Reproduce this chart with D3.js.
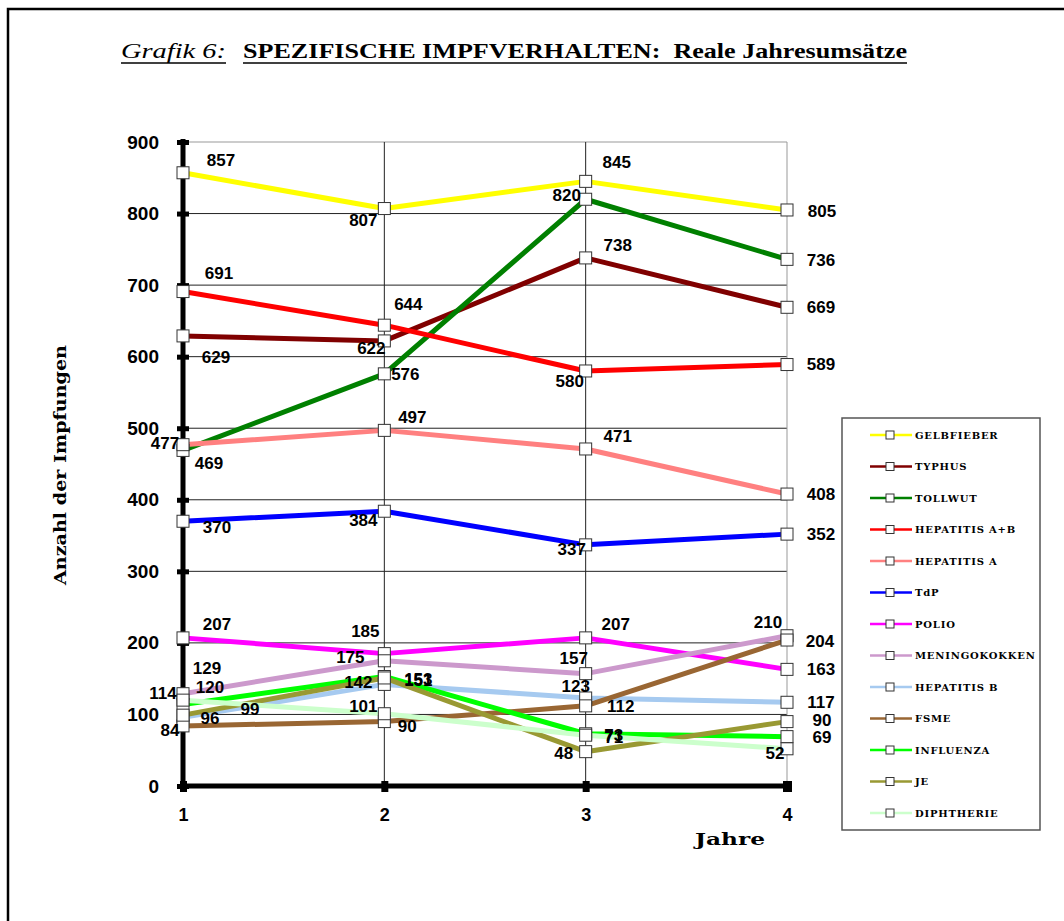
<!DOCTYPE html>
<html>
<head>
<meta charset="utf-8">
<script src="https://cdn.jsdelivr.net/npm/d3@7/dist/d3.min.js"></script>
<style>
  html, body { margin: 0; padding: 0; background: #fff; }
  svg { display: block; }
</style>
</head>
<body>
<svg id="chart" width="1064" height="921"></svg>
<script>
// Years on the x axis
const years = [1, 2, 3, 4];
const yTicks = [0, 100, 200, 300, 400, 500, 600, 700, 800, 900];

// Vaccine names (legend order)
const vaccines = [
  "GELBFIEBER", "TYPHUS", "TOLLWUT", "HEPATITIS A+B", "HEPATITIS A", "TdP",
  "POLIO", "MENINGOKOKKEN", "HEPATITIS B", "FSME", "INFLUENZA", "JE", "DIPHTHERIE"
];

// Annual vaccinations per vaccine, years 1..4
const gelbfieber    = [857, 807, 845, 805];
const typhus        = [629, 622, 738, 669];
const tollwut       = [469, 576, 820, 736];
const hepatitisAB   = [691, 644, 580, 589];
const hepatitisA    = [477, 497, 471, 408];
const tdp           = [370, 384, 337, 352];
const polio         = [207, 185, 207, 163];
const meningokokken = [129, 175, 157, 210];
const hepatitisB    = [96, 142, 123, 117];
const fsme          = [84, 90, 112, 204];
const influenza     = [114, 153, 73, 69];
const je            = [99, 151, 48, 90];
const diphtherie    = [120, 101, 71, 52];

const seriesValues = [gelbfieber, typhus, tollwut, hepatitisAB, hepatitisA, tdp,
  polio, meningokokken, hepatitisB, fsme, influenza, je, diphtherie];

const colors = ["#ffff00", "#800000", "#008000", "#ff0000", "#ff8080", "#0000ff",
  "#ff00ff", "#cc99cc", "#a6caf0", "#996633", "#00ff00", "#999933", "#ccffcc"];

// Value-label offsets (dx, dy) from each point, to keep labels readable
const labelOffsets = [
  [[38, -12], [-21, 12], [31, -19], [35, 2]],
  [[33, 22], [-13, 8], [32, -12], [34, 0]],
  [[26, 13], [21, 1], [-19, -4], [34, 1]],
  [[36, -18], [24, -21], [-16, 11], [34, 0]],
  [[-18, -1], [28, -13], [32, -12], [34, 0]],
  [[34, 6], [-21, 9], [-14, 5], [34, 0]],
  [[34, -13], [-19, -22], [30, -13], [34, 0]],
  [[24, -25], [-34, -3], [-12, -15], [-19, -13]],
  [[27, 1], [-26, -2], [-10, -11], [34, 0]],
  [[-13, 5], [23, 5], [35, 1], [33, 1]],
  [[-20, -11], [34, 3], [28, 2], [35, 1]],
  [[67, -6], [34, 3], [-22, 2], [35, -1]],
  [[27, -13], [-21, -7], [28, 2], [-12, 5]]
];

const series = vaccines.map((name, i) => ({
  name, color: colors[i],
  points: years.map((yr, j) => ({ x: yr, v: seriesValues[i][j], off: labelOffsets[i][j] }))
}));

const svg = d3.select("#chart");

// Page frame
svg.append("rect").attr("x", 8).attr("y", 9).attr("width", 1200).attr("height", 1000)
  .attr("fill", "none").attr("stroke", "#000").attr("stroke-width", 2.5);

// Title
const title = svg.append("text").attr("y", 58).attr("font-family", "Liberation Serif, Times New Roman, serif")
  .attr("font-size", 21).attr("fill", "#000").style("white-space", "pre");
title.append("tspan").attr("x", 121).attr("font-style", "italic")
  .attr("textLength", 105).attr("lengthAdjust", "spacingAndGlyphs").text("Grafik 6:");
title.append("tspan").attr("x", 243).attr("font-weight", "bold")
  .attr("textLength", 664).attr("lengthAdjust", "spacingAndGlyphs")
  .text("SPEZIFISCHE IMPFVERHALTEN:  Reale Jahresumsätze");
svg.append("line").attr("x1", 121).attr("x2", 226).attr("y1", 63).attr("y2", 63)
  .attr("stroke", "#000").attr("stroke-width", 1.5);
svg.append("line").attr("x1", 243).attr("x2", 907).attr("y1", 63).attr("y2", 63)
  .attr("stroke", "#000").attr("stroke-width", 1.5);

// Scales
const x = d3.scaleLinear().domain([1, 4]).range([183, 787]);
const y = d3.scaleLinear().domain([0, 900]).range([786, 142]);

// Grid
const grid = svg.append("g");
grid.selectAll("line.h").data(yTicks.filter(t => t > 0)).join("line")
  .attr("x1", x(1)).attr("x2", x(4)).attr("y1", d => y(d)).attr("y2", d => y(d))
  .attr("stroke", d => d === 900 ? "#999" : "#222").attr("stroke-width", 1);
grid.selectAll("line.v").data(years.filter(t => t > 1)).join("line")
  .attr("x1", d => x(d)).attr("x2", d => x(d)).attr("y1", y(900)).attr("y2", y(0))
  .attr("stroke", d => d === 4 ? "#999" : "#222").attr("stroke-width", 1);

// Y axis
const yAxis = svg.append("g").attr("transform", `translate(${x(1)},0)`)
  .call(d3.axisLeft(y).tickValues(yTicks).tickSize(6).tickPadding(12).tickFormat(d3.format("d")));
yAxis.select(".domain").attr("stroke", "#000").attr("stroke-width", 5)
  .attr("d", `M0,${y(900) - 3}V${y(0) + 4}`);
yAxis.selectAll(".tick line").attr("x1", 6).attr("x2", -6).attr("stroke", "#000").attr("stroke-width", 5);
yAxis.selectAll(".tick text").attr("font-family", "Liberation Sans, Arial, sans-serif")
  .attr("font-weight", "bold").attr("font-size", 19).attr("fill", "#000").attr("dx", -6);

// X axis
const xAxis = svg.append("g").attr("transform", `translate(0,${y(0)})`)
  .call(d3.axisBottom(x).tickValues(years).tickSize(6).tickPadding(16).tickFormat(d3.format("d")));
xAxis.select(".domain").attr("stroke", "#000").attr("stroke-width", 5)
  .attr("d", `M${x(1) - 2},0H${x(4) + 4}`);
xAxis.selectAll(".tick line").attr("y1", -5).attr("y2", 6)
  .attr("stroke", "#000").attr("stroke-width", d => d === 4 ? 9 : 7);
xAxis.selectAll(".tick text").attr("font-family", "Liberation Sans, Arial, sans-serif")
  .attr("font-weight", "bold").attr("font-size", 18).attr("fill", "#000");

// Axis titles
svg.append("text").attr("transform", "translate(66,465) rotate(-90)")
  .attr("text-anchor", "middle").attr("font-family", "DejaVu Serif, serif").attr("font-weight", "bold")
  .attr("font-size", 16).attr("textLength", 240).attr("lengthAdjust", "spacingAndGlyphs")
  .text("Anzahl der Impfungen");
svg.append("text").attr("x", 730).attr("y", 845).attr("text-anchor", "middle")
  .attr("font-family", "DejaVu Serif, serif").attr("font-weight", "bold").attr("font-size", 17)
  .attr("textLength", 70).attr("lengthAdjust", "spacingAndGlyphs").text("Jahre");

// Lines
const line = d3.line().x(d => x(d.x)).y(d => y(d.v));
const plot = svg.append("g");
plot.selectAll("path.series").data(series).join("path")
  .attr("fill", "none").attr("stroke", d => d.color).attr("stroke-width", 5)
  .attr("stroke-linejoin", "round").attr("d", d => line(d.points));

// Markers
plot.selectAll("g.markers").data(series).join("g")
  .selectAll("rect").data(d => d.points).join("rect")
  .attr("x", d => x(d.x) - 6).attr("y", d => y(d.v) - 6).attr("width", 12).attr("height", 12)
  .attr("fill", "#fff").attr("stroke", "#333").attr("stroke-width", 1);

// Value labels
plot.selectAll("g.labels").data(series).join("g")
  .selectAll("text").data(d => d.points).join("text")
  .attr("x", d => x(d.x) + d.off[0]).attr("y", d => y(d.v) + d.off[1])
  .attr("text-anchor", "middle").attr("dominant-baseline", "central")
  .attr("font-family", "Liberation Sans, Arial, sans-serif").attr("font-weight", "bold")
  .attr("font-size", 17).attr("fill", "#000").text(d => d.v);

// Legend
const legend = svg.append("g");
legend.append("rect").attr("x", 842).attr("y", 418).attr("width", 198).attr("height", 412)
  .attr("fill", "#fff").attr("stroke", "#555").attr("stroke-width", 1.5);
const item = legend.selectAll("g.item").data(series).join("g")
  .attr("transform", (d, i) => `translate(0,${435 + i * 31.5})`);
item.append("line").attr("x1", 870).attr("x2", 912).attr("y1", 0).attr("y2", 0)
  .attr("stroke", d => d.color).attr("stroke-width", 2.5);
item.append("rect").attr("x", 886).attr("y", -4).attr("width", 8).attr("height", 8)
  .attr("fill", "#fff").attr("stroke", "#333").attr("stroke-width", 1);
item.append("text").attr("x", 915).attr("y", 0).attr("dominant-baseline", "central")
  .attr("font-family", "DejaVu Serif, serif").attr("font-weight", "bold").attr("font-size", 10)
  .attr("letter-spacing", 0.8).attr("fill", "#000").text(d => d.name);
</script>
</body>
</html>
